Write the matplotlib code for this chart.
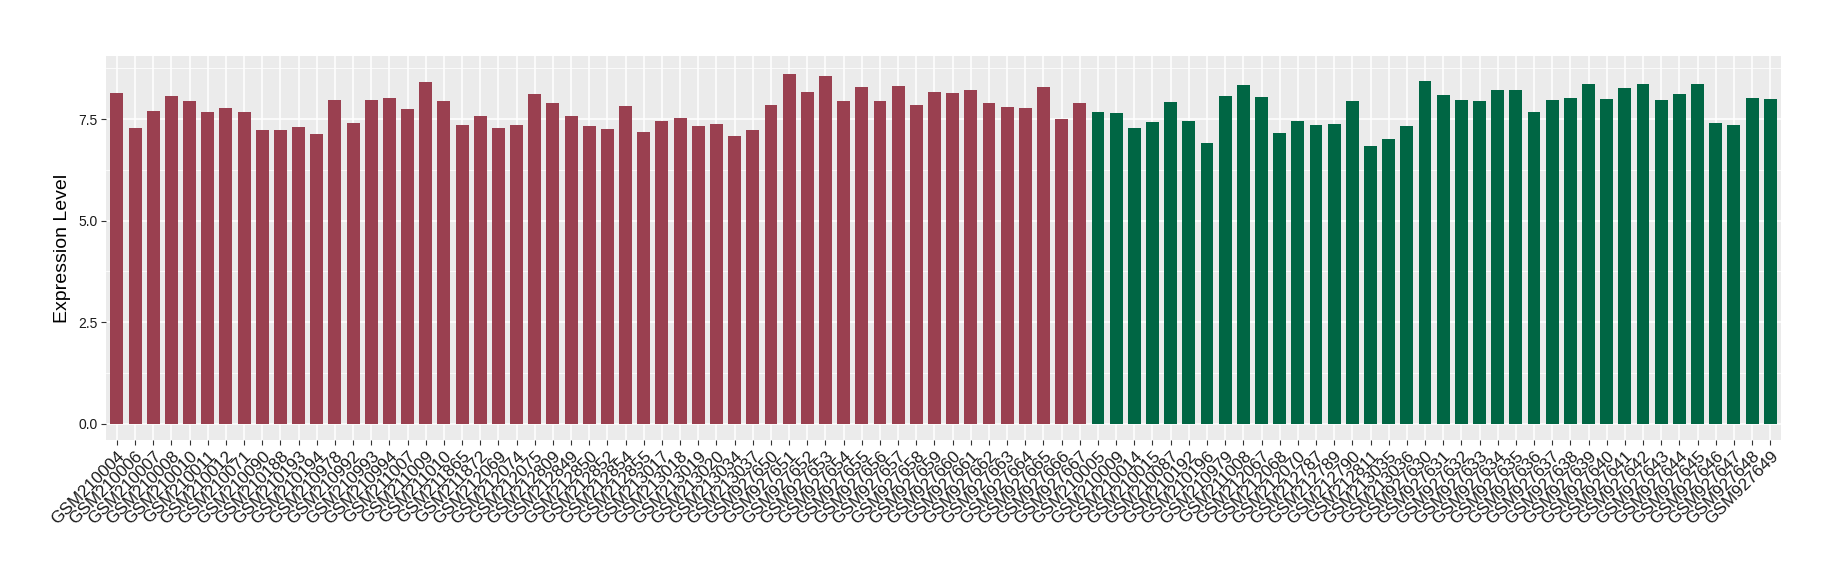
import numpy as np
import matplotlib
matplotlib.use('Agg')
import matplotlib.pyplot as plt
from matplotlib.ticker import MultipleLocator

plt.rcParams['font.family'] = ['Liberation Sans', 'DejaVu Sans']

# group 1 (red)
samples_a = ['GSM210004', 'GSM210006', 'GSM210007', 'GSM210008', 'GSM210010', 'GSM210011',
             'GSM210012', 'GSM210071', 'GSM210090', 'GSM210188', 'GSM210193', 'GSM210194',
             'GSM210978', 'GSM210992', 'GSM210993', 'GSM210994', 'GSM211007', 'GSM211009',
             'GSM211010', 'GSM211865', 'GSM211872', 'GSM212069', 'GSM212074', 'GSM212075',
             'GSM212809', 'GSM212849', 'GSM212850', 'GSM212852', 'GSM212854', 'GSM212855',
             'GSM213017', 'GSM213018', 'GSM213019', 'GSM213020', 'GSM213034', 'GSM213037',
             'GSM927650', 'GSM927651', 'GSM927652', 'GSM927653', 'GSM927654', 'GSM927655',
             'GSM927656', 'GSM927657', 'GSM927658', 'GSM927659', 'GSM927660', 'GSM927661',
             'GSM927662', 'GSM927663', 'GSM927664', 'GSM927665', 'GSM927666', 'GSM927667']
values_a = [8.15, 7.29, 7.71, 8.08, 7.95, 7.68, 7.78, 7.68, 7.24, 7.24, 7.31, 7.14,
            7.98, 7.41, 7.98, 8.03, 7.75, 8.42, 7.95, 7.36, 7.58, 7.29, 7.36, 8.12,
            7.90, 7.58, 7.34, 7.26, 7.83, 7.19, 7.46, 7.53, 7.34, 7.38, 7.09, 7.24,
            7.85, 8.62, 8.17, 8.57, 7.95, 8.30, 7.95, 8.32, 7.85, 8.17, 8.15, 8.22,
            7.90, 7.80, 7.78, 8.30, 7.51, 7.90]

# group 2 (green)
samples_b = ['GSM210005', 'GSM210009', 'GSM210014', 'GSM210015', 'GSM210087', 'GSM210192',
             'GSM210196', 'GSM210979', 'GSM211008', 'GSM212067', 'GSM212068', 'GSM212070',
             'GSM212787', 'GSM212789', 'GSM212790', 'GSM212811', 'GSM213035', 'GSM213036',
             'GSM927630', 'GSM927631', 'GSM927632', 'GSM927633', 'GSM927634', 'GSM927635',
             'GSM927636', 'GSM927637', 'GSM927638', 'GSM927639', 'GSM927640', 'GSM927641',
             'GSM927642', 'GSM927643', 'GSM927644', 'GSM927645', 'GSM927646', 'GSM927647',
             'GSM927648', 'GSM927649']
values_b = [7.68, 7.66, 7.29, 7.43, 7.93, 7.46, 6.92, 8.08, 8.35, 8.05, 7.16, 7.46,
            7.36, 7.38, 7.95, 6.84, 7.01, 7.34, 8.45, 8.10, 7.98, 7.95, 8.22, 8.23,
            7.67, 7.97, 8.02, 8.37, 7.99, 8.28, 8.37, 7.97, 8.11, 8.37, 7.41, 7.35,
            8.02, 7.99]

color_a = '#9A4050'
color_b = '#006644'

labels = samples_a + samples_b
values = values_a + values_b
colors = [color_a] * len(samples_a) + [color_b] * len(samples_b)
x = np.arange(len(labels))

fig = plt.figure(figsize=(18.4, 5.8), dpi=100)
ax = fig.add_axes([0.0576, 0.241, 0.9104, 0.662])
ax.set_facecolor('#EBEBEB')

ax.bar(x, values, width=0.71, color=colors, zorder=3)

ax.set_xlim(-0.6, len(labels) - 0.4)
ax.set_ylim(-0.41, 9.05)
ax.yaxis.set_minor_locator(MultipleLocator(1.25))
ax.set_yticks([0, 2.5, 5.0, 7.5])
ax.set_yticklabels(['0.0', '2.5', '5.0', '7.5'], fontsize=10, color='#1a1a1a')
ax.grid(which='major', color='white', linewidth=1.1, zorder=0)
ax.grid(which='minor', axis='y', color='white', linewidth=0.55, zorder=0)
ax.set_axisbelow(True)

ax.set_xticks(x)
ax.set_xticklabels(labels, rotation=45, ha='right', rotation_mode='anchor',
                   fontsize=12.3, color='#1a1a1a')
ax.tick_params(axis='both', which='major', length=3.5, color='#333333', width=0.8, pad=2.5)
ax.tick_params(axis='y', which='minor', length=0)

ax.set_ylabel('Expression Level', fontsize=14, labelpad=5)

for s in ax.spines.values():
    s.set_visible(False)

fig.savefig('out.png', dpi=100)
